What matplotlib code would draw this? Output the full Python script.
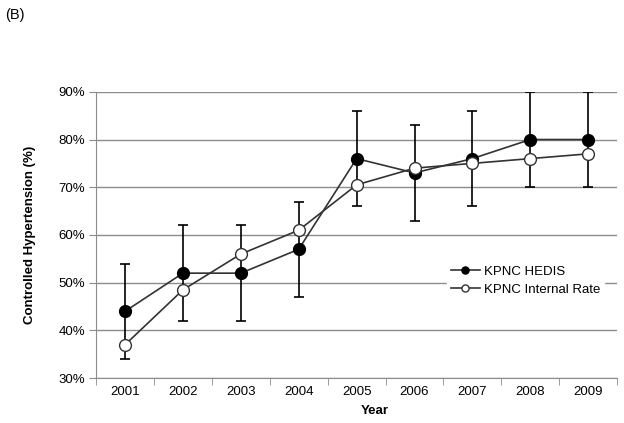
import numpy as np
import matplotlib.pyplot as plt

plt.rcParams['font.family'] = ['Liberation Sans', 'DejaVu Sans']

years = ['2001', '2002', '2003', '2004', '2005', '2006', '2007', '2008', '2009']
hedis = [44, 52, 52, 57, 76, 73, 76, 80, 80]
hedis_err = [10, 10, 10, 10, 10, 10, 10, 10, 10]
internal = [37, 48.5, 56, 61, 70.5, 74, 75, 76, 77]
y_ticks = [30, 40, 50, 60, 70, 80, 90]

x = np.arange(len(years))

fig = plt.figure(figsize=(6.24, 4.23), dpi=100)
ax = fig.add_axes([0.154, 0.106, 0.835, 0.677])

ax.grid(axis='y', color='#8c8c8c', linewidth=1)
ax.set_axisbelow(True)

ax.errorbar(x, hedis, yerr=hedis_err, fmt='none', ecolor='black',
            elinewidth=1.2, capsize=3.3, capthick=1.2, zorder=2)
ax.plot(x, hedis, color='#333333', linewidth=1.2, marker='o', markersize=8.5,
        markerfacecolor='black', markeredgecolor='black', label='KPNC HEDIS', zorder=3)
ax.plot(x, internal, color='#333333', linewidth=1.2, marker='o', markersize=8.5,
        markerfacecolor='white', markeredgecolor='#333333', label='KPNC Internal Rate', zorder=4)

ax.set_xlim(-0.5, len(years) - 0.5)
ax.set_ylim(30, 90)
ax.set_xticks(x)
ax.set_xticklabels(years, fontsize=9.5)
ax.set_xticks(np.arange(-0.5, len(years)), minor=True)
ax.tick_params(axis='x', which='major', length=0, pad=6)
ax.tick_params(axis='x', which='minor', length=5, color='#8c8c8c', direction='out')
ax.set_yticks(y_ticks)
ax.set_yticklabels([f'{v}%' for v in y_ticks], fontsize=9.5)
ax.tick_params(axis='y', length=5, color='#8c8c8c', direction='out', pad=3)

for s in ['top', 'right']:
    ax.spines[s].set_visible(False)
for s in ['left', 'bottom']:
    ax.spines[s].set_color('#8c8c8c')

ax.set_xlabel('Year', fontsize=9.5, fontweight='bold')
ax.xaxis.set_label_coords(0.535, -0.095)
ax.set_ylabel('Controlled Hypertension (%)', fontsize=9.5, fontweight='bold', labelpad=16)

leg = ax.legend(loc='upper left', bbox_to_anchor=(0.66, 0.43), frameon=True,
                fontsize=9.5, handlelength=2.2, handletextpad=0.3,
                labelspacing=0.45, borderpad=0.3, markerscale=0.6)
leg.get_frame().set_edgecolor('white')
leg.get_frame().set_facecolor('white')
leg.get_frame().set_alpha(1)

fig.text(0.008, 0.965, '(B)', fontsize=10.5, va='center')

fig.savefig('out.png', dpi=100)
